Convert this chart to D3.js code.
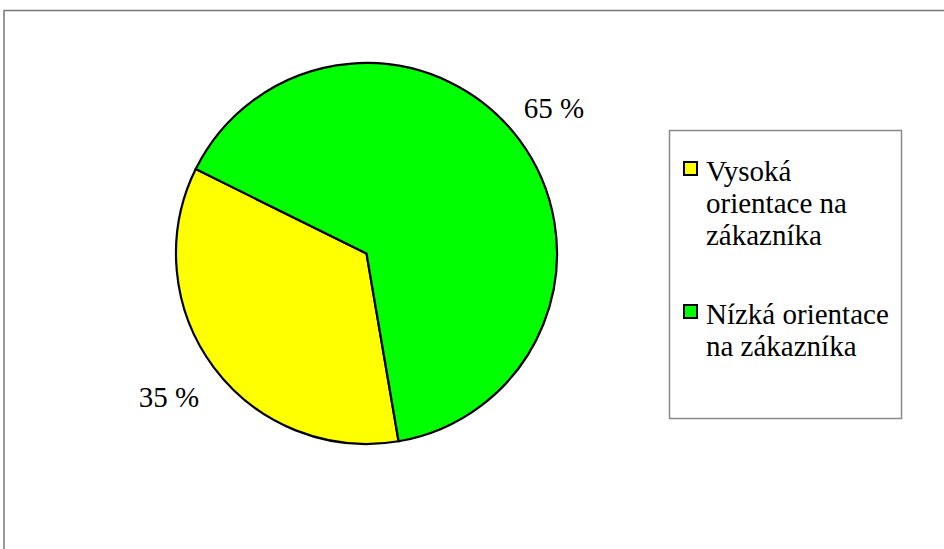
<!DOCTYPE html>
<html>
<head>
<meta charset="utf-8">
<script src="https://cdn.jsdelivr.net/npm/d3@7"></script>
</head>
<body style="margin:0;">
<svg id="chart" width="944" height="549"></svg>
<script>
const categories = ["Vysoká orientace na zákazníka", "Nízká orientace na zákazníka"];
const values = [35, 65];
const labels = ["35 %", "65 %"];
const legendLines = [["Vysoká", "orientace na", "zákazníka"], ["Nízká orientace", "na zákazníka"]];
const colors = ["#ffff00", "#00ff00"];
const FONT = "Times New Roman, Liberation Serif, serif";

const svg = d3.select("#chart");

svg.append("path")
  .attr("d", "M4,549 V10.5 H944")
  .attr("fill", "none").attr("stroke", "#777").attr("stroke-width", 1.5);

const cx = 366.5, cy = 253.5, R = 190.5;
const start = 170.3 * Math.PI / 180;

const pie = d3.pie().sort(null).value(d => d)
  .startAngle(start).endAngle(start + 2 * Math.PI);
const arcs = pie(values);
const arc = d3.arc().innerRadius(0).outerRadius(R);
const labelArc = d3.arc().innerRadius(240).outerRadius(240);

const g = svg.append("g").attr("transform", `translate(${cx},${cy})`);
g.selectAll("path.slice").data(arcs).enter().append("path")
  .attr("class", "slice")
  .attr("d", arc)
  .attr("fill", (d, i) => colors[i])
  .attr("stroke", "#000").attr("stroke-width", 2.2)
  .attr("stroke-linejoin", "miter");

const lblOffset = [[-5, 0], [-5, -2]];
svg.selectAll("text.lbl").data(arcs).enter().append("text")
  .attr("class", "lbl")
  .attr("x", (d, i) => cx + labelArc.centroid(d)[0] + lblOffset[i][0])
  .attr("y", (d, i) => cy + labelArc.centroid(d)[1] + lblOffset[i][1])
  .attr("text-anchor", "middle")
  .attr("dy", "0.35em")
  .attr("font-family", FONT)
  .attr("font-size", 29)
  .text((d, i) => labels[i]);

svg.append("rect").attr("x", 669.5).attr("y", 130.5).attr("width", 232).attr("height", 288)
  .attr("fill", "#fff").attr("stroke", "#888").attr("stroke-width", 1.5);

const entryTop = [181, 324];
const lineH = 32;
categories.forEach((c, i) => {
  svg.append("rect").attr("x", 684).attr("y", entryTop[i] - 19).attr("width", 13).attr("height", 13)
    .attr("fill", colors[i]).attr("stroke", "#000").attr("stroke-width", 2);
  legendLines[i].forEach((ln, j) => {
    svg.append("text").attr("x", 706).attr("y", entryTop[i] + j * lineH)
      .attr("font-family", FONT).attr("font-size", 29).text(ln);
  });
});
</script>
</body>
</html>
